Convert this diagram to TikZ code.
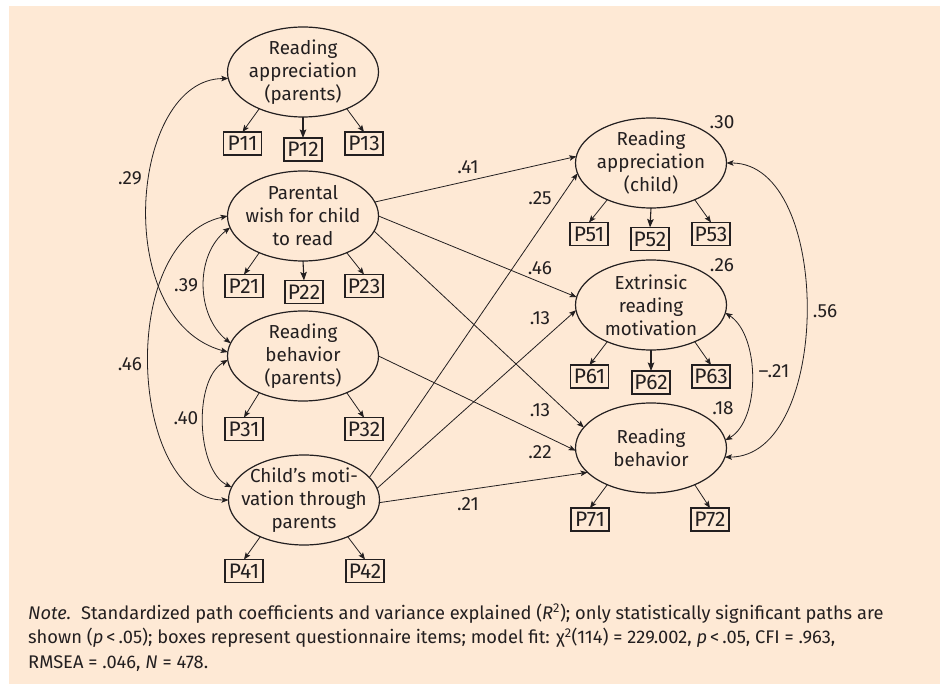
\documentclass[tikz,border=0pt]{standalone}
\usepackage{fontspec}
\setmainfont{Fira Sans}
\usetikzlibrary{shapes.geometric,arrows.meta}
\definecolor{bgpeach}{RGB}{254,233,213}
\definecolor{ink}{RGB}{35,31,32}
\begin{document}
\begin{tikzpicture}[x=1pt,y=-1pt,
  latent/.style={ellipse,draw=ink,line width=1.2pt,minimum width=151pt,minimum height=90pt,inner sep=0pt,outer sep=0pt},
  lattext/.style={align=center,text=ink,inner sep=0pt,font=\fontsize{18.8}{23}\selectfont},
  item/.style={rectangle,draw=ink,line width=1.1pt,minimum width=38pt,minimum height=23pt,inner sep=0pt,outer sep=0pt,text=ink,font=\fontsize{21}{20}\selectfont},
  tip/.tip={Stealth[length=7pt,width=5.5pt,inset=1.5pt]},
  bigtip/.tip={Stealth[length=8.5pt,width=6.5pt,inset=1.5pt]},
  load/.style={draw=ink,line width=0.8pt,-tip},
  mainload/.style={draw=ink,line width=1.1pt,-bigtip},
  effect/.style={draw=ink,line width=0.8pt,-tip},
  cov/.style={draw=ink,line width=0.8pt,tip-tip},
  coef/.style={text=ink,inner sep=0pt,font=\fontsize{19}{20}\selectfont},
  notetext/.style={anchor=base west,text=ink,inner sep=0pt,font=\fontsize{18.3}{24}\selectfont}
]
% canvas and panel
\useasboundingbox (0,0) rectangle (940,684);
\fill[white] (0,0) rectangle (940,684);
\fill[bgpeach] (9,6) rectangle (940,684);

% parent-side latent variables
\node[latent,label={[lattext]center:{Reading\\appreciation\\(parents)}}] (e1) at (303,72) {};
\node[latent,label={[lattext]center:{Parental\\wish for child\\to read}}] (e2) at (303,216) {};
\node[latent,label={[lattext]center:{Reading\\behavior\\(parents)}}] (e3) at (303,356) {};
\node[latent,label={[lattext]center:{Child’s moti-\\vation through\\parents}}] (e4) at (304,500) {};

% child-side latent variables
\node[latent,label={[lattext]center:{Reading\\appreciation\\(child)}}] (e5) at (651,163) {};
\node[latent,label={[lattext]center:{Extrinsic\\reading\\motivation}}] (e6) at (651,305) {};
\node[latent,label={[lattext]center:{Reading\\behavior}}] (e7) at (651,448) {};

% questionnaire items
\node[item] (p11) at (242.5,143.5) {P11};
\node[item] (p12) at (303,149.5) {P12};
\node[item] (p13) at (364,143.5) {P13};
\node[item] (p21) at (244,286) {P21};
\node[item] (p22) at (304,292) {P22};
\node[item] (p23) at (364,286) {P23};
\node[item] (p31) at (244,429) {P31};
\node[item] (p32) at (364,429) {P32};
\node[item] (p41) at (244,571) {P41};
\node[item] (p42) at (365,571) {P42};
\node[item] (p51) at (589,234) {P51};
\node[item] (p52) at (650,239) {P52};
\node[item] (p53) at (711,234) {P53};
\node[item] (p61) at (589.5,376.5) {P61};
\node[item] (p62) at (651,382.5) {P62};
\node[item] (p63) at (711,376.5) {P63};
\node[item] (p71) at (590,519.5) {P71};
\node[item] (p72) at (710,519.5) {P72};

% loadings
\draw[load] (e1.220) -- (p11.north);
\draw[mainload] (e1.south) -- (p12.north);
\draw[load] (e1.320) -- (p13.north);
\draw[load] (e2.220) -- (p21.north);
\draw[mainload] (e2.south) -- (p22.north);
\draw[load] (e2.320) -- (p23.north);
\draw[load] (e3.220) -- (p31.north);
\draw[load] (e3.320) -- (p32.north);
\draw[load] (e4.220) -- (p41.north);
\draw[load] (e4.320) -- (p42.north);
\draw[load] (e5.220) -- (p51.north);
\draw[mainload] (e5.south) -- (p52.north);
\draw[load] (e5.320) -- (p53.north);
\draw[load] (e6.220) -- (p61.north);
\draw[mainload] (e6.south) -- (p62.north);
\draw[load] (e6.320) -- (p63.north);
\draw[load] (e7.220) -- (p71.north);
\draw[load] (e7.320) -- (p72.north);

% structural paths
\draw[effect] (e2.11) -- (e5.175);
\draw[effect] (e2.east) -- (e6.174);
\draw[effect] (e2.348) -- (e7.163);
\draw[effect] (e3.east) -- (e7.182);
\draw[effect] (e4.19) -- (e5.188);
\draw[effect] (e4.9) -- (e6.184);
\draw[effect] (e4.358) -- (e7.201);

% correlations among predictors
\draw[cov] (e1.185) .. controls +(-98,0) and +(-118,-32) .. (e3.177);
\draw[cov] (e2.180) .. controls +(-113,25) and +(-98,0) .. (e4.180);
\draw[cov] (e2.189) .. controls +(-35,27) and +(-35,-28) .. (e3.170);
\draw[cov] (e3.183) .. controls +(-35,20) and +(-35,-17) .. (e4.170);

% correlations among outcomes
\draw[cov] (e5.0) .. controls +(107,0) and +(107,0) .. (e7.353);
\draw[cov] (e6.354) .. controls +(35,23) and +(35,-20) .. (e7.6);

% coefficients
\node[coef] (c29) at (130,178) {.29};
\node[coef] (c39) at (186,285) {.39};
\node[coef] (c46) at (130,364) {.46};
\node[coef] (c40) at (186,418) {.40};
\node[coef] (c41) at (468,167) {.41};
\node[coef] (c25) at (540,198) {.25};
\node[coef] (c46b) at (540,268) {.46};
\node[coef] (c13a) at (540,318) {.13};
\node[coef] (c13b) at (540,410) {.13};
\node[coef] (c22) at (540,452) {.22};
\node[coef] (c21) at (468,504) {.21};
\node[coef] (c56) at (825,311) {.56};
\node[coef] (cm21) at (774,371) {–.21};

% variance explained
\node[coef] (r30) at (722,122) {.30};
\node[coef] (r26) at (722,265) {.26};
\node[coef] (r18) at (723,408) {.18};

% note
\node[notetext] (note1) at (28,619) {\textit{Note.}\hspace{0.55em}Standardized path coefficients and variance explained (\textit{R}\textsuperscript{2}); only statistically significant paths are};
\node[notetext] (note2) at (28,643.5) {shown (\textit{p}\,<\,.05); boxes represent questionnaire items; model fit: χ\textsuperscript{2}(114) = 229.002, \textit{p}\,<\,.05, CFI = .963,};
\node[notetext] (note3) at (28,668) {RMSEA = .046, \textit{N} = 478.};
\end{tikzpicture}
\end{document}
